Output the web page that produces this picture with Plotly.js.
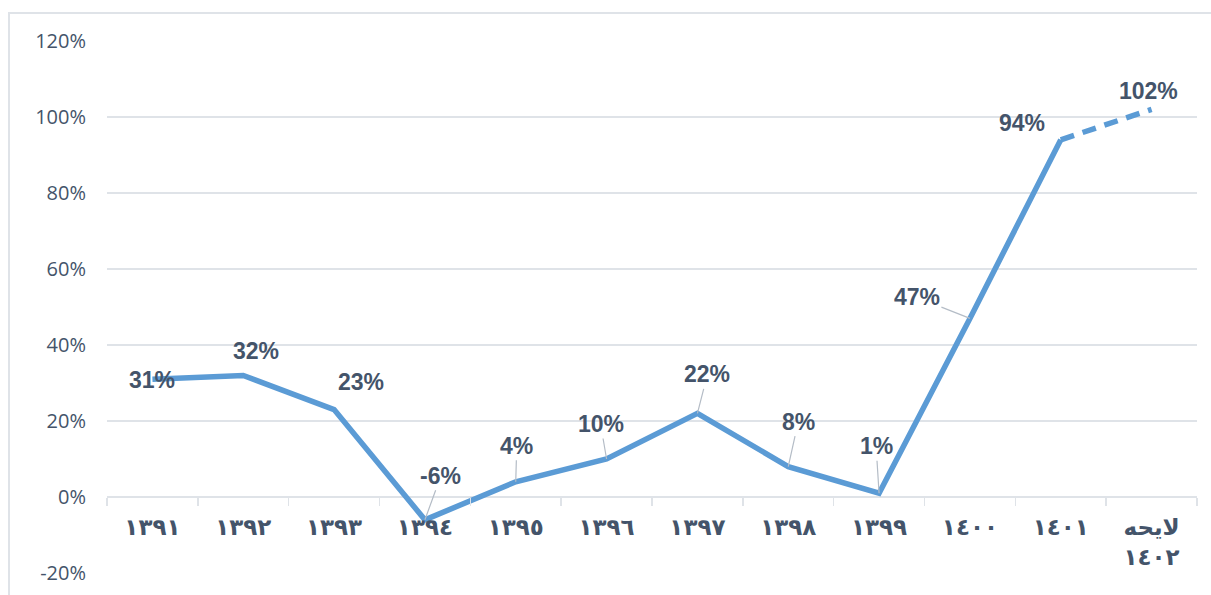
<!DOCTYPE html>
<html>
<head>
<meta charset="utf-8">
<script src="https://cdn.plot.ly/plotly-3.0.1.min.js"></script>
<style>
  html, body { margin: 0; padding: 0; background: #fff; overflow: hidden; }
  #chart { width: 1211px; height: 595px; position: relative; }
  #frame { position: absolute; left: 8px; top: 12px; width: 1300px; height: 700px;
           border-top: 2px solid #dfe3e8; border-left: 2px solid #dfe3e8; pointer-events: none; z-index: 5; }
</style>
</head>
<body>
<div id="chart"></div>
<div id="frame"></div>
<script>
// ---- data ----
const categories = ['١٣٩١', '١٣٩٢', '١٣٩٣', '١٣٩٤', '١٣٩٥', '١٣٩٦', '١٣٩٧', '١٣٩٨', '١٣٩٩', '١٤٠٠', '١٤٠١', 'لایحه ١٤٠٢'];
const values = [31, 32, 23, -6, 4, 10, 22, 8, 1, 47, 94, 102];
const dashedFromIndex = 10; // last segment (bill / projection) drawn dashed
const yTickVals = [-20, 0, 20, 40, 60, 80, 100, 120];
const yTickText = ['-20%', '0%', '20%', '40%', '60%', '80%', '100%', '120%'];

// ---- label placement (pixel offsets, style only) ----
const labelDx = [0, 13, 27, 16, 1, -6, 10, 10, -3, -53, -39, -3];
const labelDy = [1, -24, -28, -44, -36, -35, -39, -45, -47, -21, -17, -18];
const labelLeader = [false, false, false, true, true, true, true, true, true, true, false, false];

const lineColor = '#5b9bd5';
const gridColor = '#dfe3e8';
const textColor = '#44546a';

const solidTrace = {
  x: categories.slice(0, dashedFromIndex + 1),
  y: values.slice(0, dashedFromIndex + 1),
  type: 'scatter', mode: 'lines',
  line: { color: lineColor, width: 5.5 },
  hoverinfo: 'skip'
};
const dashedTrace = {
  x: categories.slice(dashedFromIndex),
  y: values.slice(dashedFromIndex),
  type: 'scatter', mode: 'lines',
  line: { color: lineColor, width: 5.5, dash: '14px,9px' },
  hoverinfo: 'skip'
};

const annotations = values.map((v, i) => {
  const base = {
    x: categories[i], y: v, xref: 'x', yref: 'y',
    text: v + '%',
    font: { family: 'Liberation Sans, Arial, sans-serif', size: 23, color: textColor, weight: 700 }
  };
  if (labelLeader[i]) {
    return Object.assign(base, {
      showarrow: true, arrowhead: 0, arrowwidth: 1.2, arrowcolor: '#b4bcc6',
      ax: labelDx[i], ay: labelDy[i], standoff: 0
    });
  }
  return Object.assign(base, { showarrow: false, xshift: labelDx[i], yshift: -labelDy[i] });
});

const layout = {
  width: 1211, height: 595,
  margin: { l: 107, r: 14, t: 41, b: 22 },
  paper_bgcolor: '#ffffff', plot_bgcolor: '#ffffff',
  showlegend: false,
  xaxis: {
    type: 'category',
    range: [-0.5, categories.length - 0.5],
    tickvals: categories,
    ticktext: categories.map(c => c.replace(' ', '<br>')),
    tickson: 'boundaries',
    ticks: 'outside', ticklen: 8, tickwidth: 1.5, tickcolor: gridColor,
    showgrid: false, showline: false, zeroline: false,
    anchor: 'free', position: 0.142857,
    ticklabelstandoff: 14,
    tickfont: { family: 'DejaVu Sans, sans-serif', size: 23, color: textColor, weight: 700 },
    fixedrange: true
  },
  yaxis: {
    range: [-20, 120],
    tickvals: yTickVals, ticktext: yTickText,
    showgrid: true, gridcolor: gridColor, gridwidth: 1.5,
    zeroline: true, zerolinecolor: gridColor, zerolinewidth: 1.5,
    showline: false, ticks: '',
    ticklabelstandoff: 20,
    tickfont: { family: 'Open Sans, Liberation Sans, sans-serif', size: 20, color: textColor },
    fixedrange: true
  },
  annotations: annotations
};

Plotly.newPlot('chart', [solidTrace, dashedTrace], layout, { staticPlot: true, displayModeBar: false });
</script>
</body>
</html>
